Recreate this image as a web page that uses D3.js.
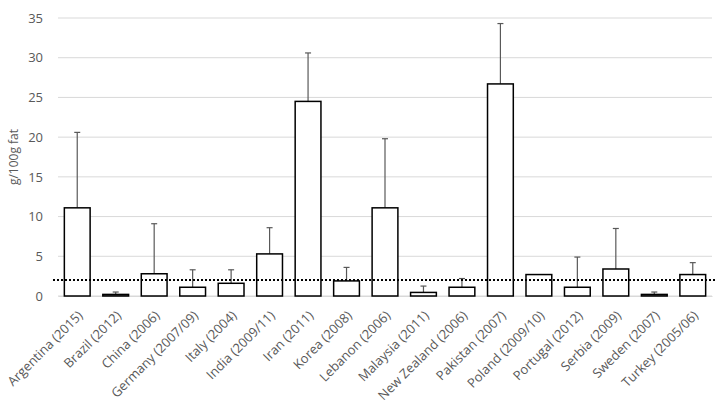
<!DOCTYPE html>
<html>
<head>
<meta charset="utf-8">
<script src="https://cdn.jsdelivr.net/npm/d3@7"></script>
<style>
  body { margin: 0; background: #fff; }
  text { font-family: "Open Sans", "Liberation Sans", sans-serif; fill: #595959; }
</style>
</head>
<body>
<div id="chart"></div>
<script>
// data
const countries = ["Argentina (2015)", "Brazil (2012)", "China (2006)", "Germany (2007/09)",
  "Italy (2004)", "India (2009/11)", "Iran (2011)", "Korea (2008)", "Lebanon (2006)",
  "Malaysia (2011)", "New Zealand (2006)", "Pakistan (2007)", "Poland (2009/10)",
  "Portugal (2012)", "Serbia (2009)", "Sweden (2007)", "Turkey (2005/06)"];
const means = [11.1, 0.2, 2.8, 1.1, 1.6, 5.3, 24.5, 1.9, 11.1, 0.45, 1.1, 26.7, 2.7, 1.1, 3.4, 0.2, 2.7];
const errTops = [20.6, 0.5, 9.1, 3.3, 3.3, 8.6, 30.6, 3.6, 19.8, 1.25, 2.2, 34.3, null, 4.9, 8.5, 0.5, 4.2];
const yTicks = [0, 5, 10, 15, 20, 25, 30, 35];
const limit = 2;

const margin = { top: 18, right: 13, bottom: 109, left: 58 };
const width = 725 - margin.left - margin.right;
const height = 405 - margin.top - margin.bottom;

const svg = d3.select("#chart")
    .append("svg")
    .attr("width", 725)
    .attr("height", 405)
    .append("g")
    .attr("transform", `translate(${margin.left},${margin.top})`);

const data = countries.map((c, i) => ({ name: c, value: means[i], err: errTops[i] }));

const x = d3.scaleBand().domain(countries).range([0, width]).paddingInner(0.33).paddingOuter(0.165);
const y = d3.scaleLinear().domain([0, 35]).range([height, 0]);

// gridlines
svg.append("g")
    .selectAll("line")
    .data(yTicks)
    .join("line")
    .attr("x1", 0)
    .attr("x2", width)
    .attr("y1", d => y(d))
    .attr("y2", d => y(d))
    .attr("stroke", "#d9d9d9")
    .attr("stroke-width", 1);

// y axis labels
const yAxis = svg.append("g")
    .call(d3.axisLeft(y).tickValues(yTicks).tickSize(0).tickPadding(15));
yAxis.select(".domain").remove();
yAxis.selectAll("text")
    .style("font-size", "13px")
    .attr("fill", "#595959");

// x axis
const xAxis = svg.append("g")
    .attr("transform", `translate(0,${height})`)
    .call(d3.axisBottom(x).tickSize(0));
xAxis.select(".domain").attr("stroke", "#d9d9d9");
xAxis.selectAll("text")
    .attr("y", 0)
    .attr("dy", "0.35em")
    .attr("transform", "translate(3,17) rotate(-45)")
    .style("text-anchor", "end")
    .style("font-size", "13px")
    .attr("fill", "#595959");

// error bars
const eb = svg.append("g").selectAll("g")
    .data(data.filter(d => d.err !== null))
    .join("g")
    .attr("stroke", "#595959")
    .attr("stroke-width", 1.2);
eb.append("line")
    .attr("x1", d => x(d.name) + x.bandwidth() / 2)
    .attr("x2", d => x(d.name) + x.bandwidth() / 2)
    .attr("y1", d => y(d.value))
    .attr("y2", d => y(d.err));
eb.append("line")
    .attr("x1", d => x(d.name) + x.bandwidth() / 2 - 3)
    .attr("x2", d => x(d.name) + x.bandwidth() / 2 + 3)
    .attr("y1", d => y(d.err))
    .attr("y2", d => y(d.err));

// bars
svg.append("g")
    .selectAll("rect")
    .data(data)
    .join("rect")
    .attr("x", d => x(d.name))
    .attr("y", d => y(d.value))
    .attr("width", x.bandwidth())
    .attr("height", d => height - y(d.value))
    .attr("fill", "#fff")
    .attr("stroke", "#000")
    .attr("stroke-width", 1.5);

// dotted reference line
svg.append("line")
    .attr("x1", -5)
    .attr("x2", width + 3)
    .attr("y1", y(limit))
    .attr("y2", y(limit))
    .attr("stroke", "#000")
    .attr("stroke-width", 2)
    .attr("stroke-dasharray", "2,2");

// y title
svg.append("text")
    .attr("transform", `translate(-40,${height / 2}) rotate(-90)`)
    .attr("text-anchor", "middle")
    .style("font-size", "12px")
    .attr("fill", "#595959")
    .text("g/100g fat");
</script>
</body>
</html>
